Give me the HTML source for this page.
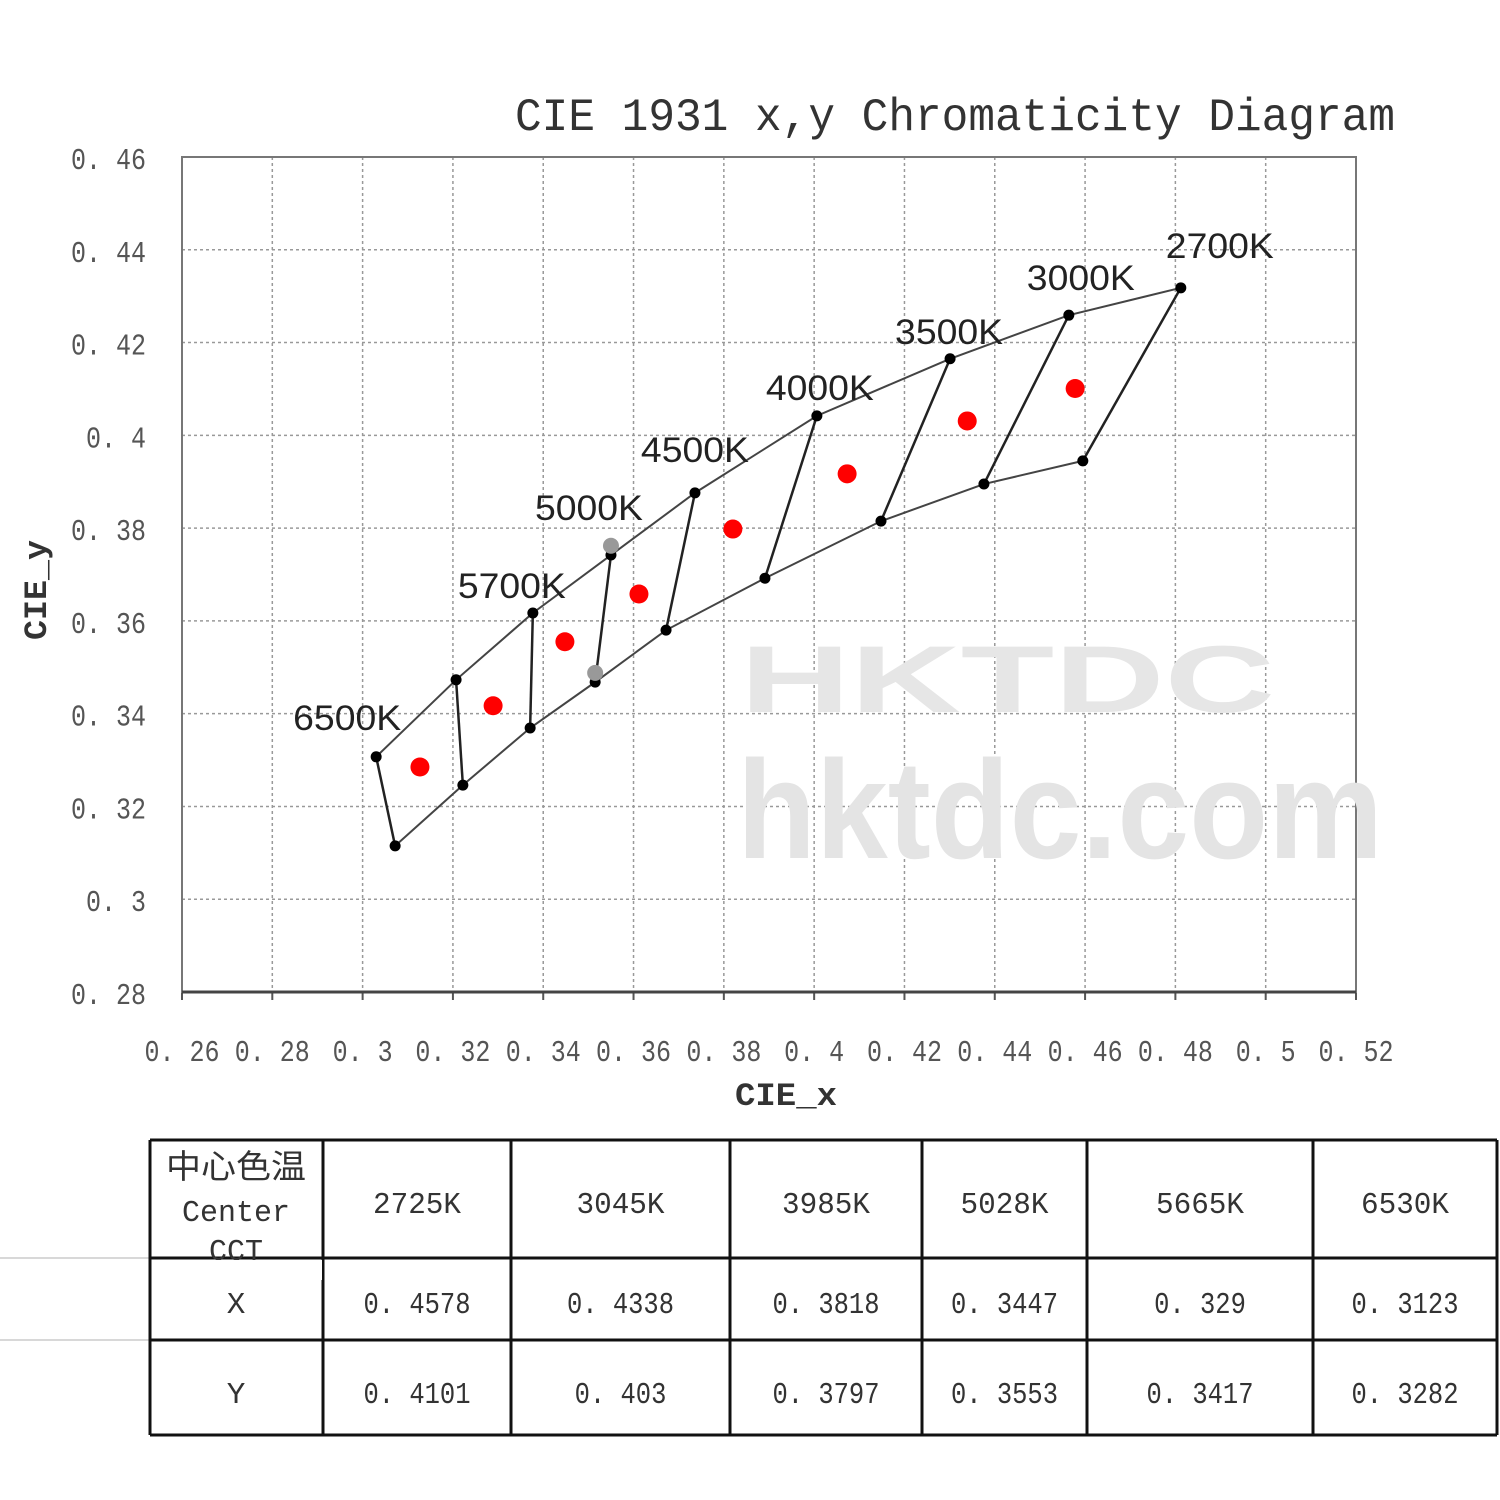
<!DOCTYPE html>
<html><head><meta charset="utf-8"><style>
html,body{margin:0;padding:0;background:#fff;}
body{width:1500px;height:1500px;position:relative;overflow:hidden;}
svg{position:absolute;left:0;top:0;}
.tk{font-family:"Liberation Mono","Noto Serif CJK SC",serif;font-size:31px;fill:#555;}
.cct{font-family:"Liberation Sans",sans-serif;font-size:35px;fill:#222;}
.tb{font-family:"Liberation Mono","Noto Serif CJK SC",serif;font-size:31px;fill:#333;}
</style></head><body>
<svg id="chart" width="1500" height="1500">
<g id="grid"></g>
<g id="wm">
<text x="740" y="712" font-family="Liberation Sans" font-weight="bold" font-size="95" fill="#e6e6e6" textLength="535" lengthAdjust="spacingAndGlyphs">HKTDC</text>
<text x="737" y="858" font-family="Liberation Sans" font-weight="bold" font-size="140" fill="#e4e4e4" textLength="646" lengthAdjust="spacingAndGlyphs">hktdc.com</text>
</g>
<text x="515" y="130" font-family="Liberation Mono, Noto Serif CJK SC, serif" font-size="46" fill="#333" textLength="880" lengthAdjust="spacingAndGlyphs">CIE 1931 x,y Chromaticity Diagram</text>
<text x="735" y="1105" font-family="Liberation Mono" font-weight="bold" font-size="32" fill="#333" textLength="102" lengthAdjust="spacingAndGlyphs">CIE_x</text>
<text transform="translate(46,590) rotate(-90)" text-anchor="middle" font-family="Liberation Mono" font-weight="bold" font-size="32" fill="#333" textLength="100" lengthAdjust="spacingAndGlyphs">CIE_y</text>
<g id="marks"></g>
<g id="table"></g>
</svg>
<script>
const xTicks=[0.26,0.28,0.30,0.32,0.34,0.36,0.38,0.40,0.42,0.44,0.46,0.48,0.50,0.52];
const xTickLabels=["0.26","0.28","0.3","0.32","0.34","0.36","0.38","0.4","0.42","0.44","0.46","0.48","0.5","0.52"];
const yTicks=[0.28,0.30,0.32,0.34,0.36,0.38,0.40,0.42,0.44,0.46];
const yTickLabels=["0.28","0.3","0.32","0.34","0.36","0.38","0.4","0.42","0.44","0.46"];
const cctNames=["6500K","5700K","5000K","4500K","4000K","3500K","3000K","2700K"];
const topX=[0.3030,0.3207,0.3377,0.3550,0.3736,0.4006,0.4301,0.4564,0.4812];
const topY=[0.3307,0.3473,0.3617,0.3742,0.3876,0.4042,0.4165,0.4259,0.4318];
const botX=[0.3072,0.3222,0.3371,0.3515,0.3672,0.3891,0.4148,0.4376,0.4595];
const botY=[0.3115,0.3246,0.3369,0.3468,0.3580,0.3692,0.3815,0.3895,0.3945];
const centerX=[0.3127,0.3289,0.3448,0.3612,0.3820,0.4073,0.4339,0.4578];
const centerY=[0.3285,0.3417,0.3555,0.3658,0.3798,0.3917,0.4031,0.4101];
const tableHead=["2725K","3045K","3985K","5028K","5665K","6530K"];
const tableX=["0.4578","0.4338","0.3818","0.3447","0.329","0.3123"];
const tableY=["0.4101","0.403","0.3797","0.3553","0.3417","0.3282"];

const NS="http://www.w3.org/2000/svg";
const L=182,R=1356,T=157,B=992;
const sx=v=>L+(v-0.26)/0.26*(R-L);
const sy=v=>B-(v-0.28)/0.18*(B-T);
function mk(tag,attrs,parent,txt){const e=document.createElementNS(NS,tag);for(const k in attrs)e.setAttribute(k,attrs[k]);if(txt!==undefined)e.textContent=txt;parent.appendChild(e);return e;}
const sp=s=>s.replace('.','. ');
const grid=document.getElementById('grid'),marks=document.getElementById('marks'),tbl=document.getElementById('table');
xTicks.forEach((v,i)=>{
 const l=mk('line',{x1:sx(v),x2:sx(v),y1:T,y2:B,stroke:'#999','stroke-width':1.5,'stroke-dasharray':'3,3'},grid);
 
 
 const s=sp(xTickLabels[i]);
 const t=mk('text',{x:sx(v),y:1061,'text-anchor':'middle',class:'tk',textLength:s.length*15,lengthAdjust:'spacingAndGlyphs'},grid,s);
 
 
 mk('line',{x1:sx(v),x2:sx(v),y1:B,y2:B+8,stroke:'#555','stroke-width':2},grid);
});
yTicks.forEach((v,i)=>{
 const l=mk('line',{x1:L,x2:R,y1:sy(v),y2:sy(v),stroke:'#999','stroke-width':1.5,'stroke-dasharray':'3,3'},grid);
 
 
 const s=sp(yTickLabels[i]);
 const t=mk('text',{x:146,y:sy(v)+12,'text-anchor':'end',class:'tk',textLength:s.length*15,lengthAdjust:'spacingAndGlyphs'},grid,s);
 
 
});
const fr=mk('rect',{x:L,y:T,width:R-L,height:B-T,fill:'none',stroke:'#777','stroke-width':2},grid);


mk('line',{x1:L,x2:R,y1:B,y2:B,stroke:'#444','stroke-width':3},grid);
const poly=(xs,ys)=>xs.map((x,i)=>sx(x)+','+sy(ys[i])).join(' ');
const tl=mk('polyline',{points:poly(topX,topY),fill:'none',stroke:'#444','stroke-width':2},marks);


const bl=mk('polyline',{points:poly(botX,botY),fill:'none',stroke:'#444','stroke-width':2},marks);


topX.forEach((x,i)=>{
 const s=mk('line',{x1:sx(x),y1:sy(topY[i]),x2:sx(botX[i]),y2:sy(botY[i]),stroke:'#222','stroke-width':2.5},marks);
 
 
});
function dot(x,y,r,f,n){const c=mk('circle',{cx:sx(x),cy:sy(y),r:r,fill:f},marks);}
topX.forEach((x,i)=>dot(x,topY[i],5.5,'#000','upper-corner-point'));
botX.forEach((x,i)=>dot(x,botY[i],5.5,'#000','lower-corner-point'));
dot(topX[3],topY[3]+0.002,8,'#999','gray-marker');
dot(botX[3],botY[3]+0.002,8,'#999','gray-marker');
centerX.forEach((x,i)=>dot(x,centerY[i],9.5,'#f00','center-point'));
const labOff=[[-83,-27],[-75,-15],[-76,-35],[-54,-31],[-51,-16],[-55,-15],[-42,-25],[-15,-30]];
cctNames.forEach((n,i)=>{
 const p=i==0?0:i+1;
 const t=mk('text',{x:sx(topX[p])+labOff[i][0],y:sy(topY[p])+labOff[i][1],class:'cct',textLength:108,lengthAdjust:'spacingAndGlyphs'},marks,n);
 
 
});
// table
const cols=[150,323,511,730,922,1087,1313,1497],rows=[1140,1258,1340,1435];
[1258,1340].forEach(y=>mk('line',{x1:0,x2:150,y1:y,y2:y,stroke:'#ccc','stroke-width':1.5},tbl));
cols.forEach(x=>mk('line',{x1:x,x2:x,y1:rows[0],y2:rows[3],stroke:'#111','stroke-width':3},tbl));
rows.forEach(y=>mk('line',{x1:150,x2:1497,y1:y,y2:y,stroke:'#111','stroke-width':3},tbl));
mk('text',{x:166,y:1178,'font-family':'"Noto Sans CJK SC",sans-serif','font-size':33,fill:'#333',textLength:140,lengthAdjust:'spacingAndGlyphs'},tbl,'中心色温');
mk('text',{x:236,y:1221,'text-anchor':'middle',class:'tb',textLength:108,lengthAdjust:'spacingAndGlyphs'},tbl,'Center');
mk('text',{x:236,y:1260,'text-anchor':'middle',class:'tb',textLength:54,lengthAdjust:'spacingAndGlyphs'},tbl,'CCT');
mk('text',{x:236,y:1313,'text-anchor':'middle',class:'tb'},tbl,'X');
mk('text',{x:236,y:1403,'text-anchor':'middle',class:'tb'},tbl,'Y');
mk('rect',{x:152,y:1260,width:170,height:20,fill:'#fff'},tbl);
tableHead.forEach((h,i)=>{
 const cx=(cols[i+1]+cols[i+2])/2;
 const a=mk('text',{x:cx,y:1213,'text-anchor':'middle',class:'tb',textLength:h.length*17.6,lengthAdjust:'spacingAndGlyphs'},tbl,h);
 
 
 const sxv=sp(tableX[i]);
 const b=mk('text',{x:cx,y:1313,'text-anchor':'middle',class:'tb',textLength:sxv.length*15.3,lengthAdjust:'spacingAndGlyphs'},tbl,sxv);
 
 
 const syv=sp(tableY[i]);
 const c=mk('text',{x:cx,y:1403,'text-anchor':'middle',class:'tb',textLength:syv.length*15.3,lengthAdjust:'spacingAndGlyphs'},tbl,syv);
 
 
});
</script>
</body></html>
